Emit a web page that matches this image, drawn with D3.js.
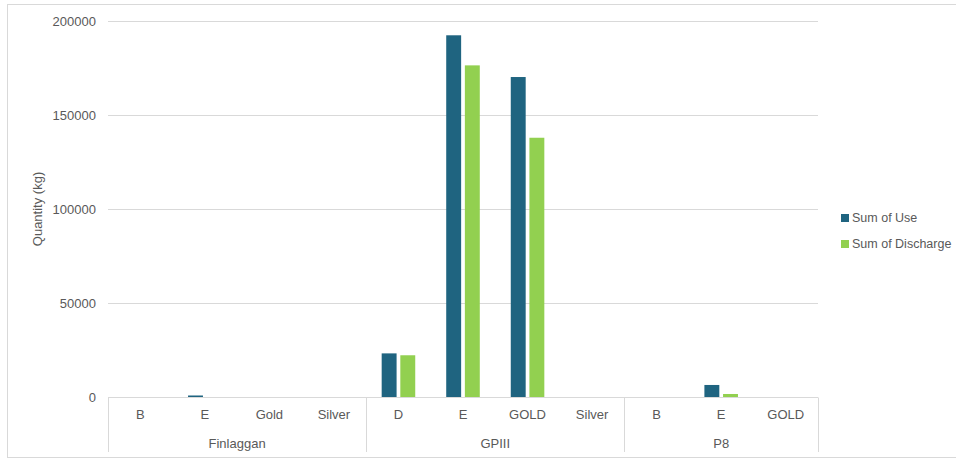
<!DOCTYPE html>
<html>
<head>
<meta charset="utf-8">
<script src="https://cdn.jsdelivr.net/npm/d3@7"></script>
<style>
  html, body { margin: 0; padding: 0; background: #fff; }
  svg text { font-family: "Liberation Sans", "Open Sans", sans-serif; fill: #595959; }
</style>
</head>
<body>
<svg id="chart" width="956" height="459"></svg>
<script>
// Sites and the product codes shown under each of them
const groups = ["Finlaggan", "GPIII", "P8"];
const categoryGroup = ["Finlaggan", "Finlaggan", "Finlaggan", "Finlaggan",
                       "GPIII", "GPIII", "GPIII", "GPIII",
                       "P8", "P8", "P8"];
const categoryLabel = ["B", "E", "Gold", "Silver",
                       "D", "E", "GOLD", "Silver",
                       "B", "E", "GOLD"];
// Quantities in kg
const useValues       = [0, 800, 0, 0, 23200, 192400, 170200, 0, 0, 6400, 0];
const dischargeValues = [0, 0,   0, 0, 22200, 176400, 137900, 0, 0, 1600, 0];
const seriesNames = ["Sum of Use", "Sum of Discharge"];
const seriesColors = ["#1f6480", "#92d050"];
const yTicks = [0, 50000, 100000, 150000, 200000];

const svg = d3.select("#chart");
const grid = "#d9d9d9";
const plot = { left: 108, right: 818, top: 21, bottom: 397 };

// outer frame
svg.append("rect")
  .attr("x", 7.5).attr("y", 4.5).attr("width", 960).attr("height", 453)
  .attr("fill", "none").attr("stroke", grid).attr("stroke-width", 1);

const keys = categoryLabel.map((d, i) => i);
const x = d3.scaleBand().domain(keys).range([plot.left, plot.right]).padding(0);
const bw = x.bandwidth();
const xs = d3.scaleBand().domain(seriesNames).range([bw * 0.24, bw * 0.76]).paddingInner(0.2);
const y = d3.scaleLinear().domain([0, 200000]).range([plot.bottom, plot.top]);

// horizontal gridlines and value labels
const yAxis = svg.append("g");
yAxis.selectAll("line.grid").data(yTicks.filter(t => t > 0)).join("line")
  .attr("x1", plot.left).attr("x2", plot.right)
  .attr("y1", d => Math.round(y(d)) + 0.5).attr("y2", d => Math.round(y(d)) + 0.5)
  .attr("stroke", grid).attr("stroke-width", 1);
yAxis.selectAll("text").data(yTicks).join("text")
  .attr("x", 96).attr("y", d => y(d)).attr("dy", "0.35em")
  .attr("text-anchor", "end").attr("font-size", 13)
  .text(d => d3.format("d")(d));

// axis title
svg.append("text")
  .attr("transform", `translate(42,${(plot.top + plot.bottom) / 2}) rotate(-90)`)
  .attr("text-anchor", "middle").attr("font-size", 13)
  .text("Quantity (kg)");

// bars
const rows = keys.map(i => [useValues[i], dischargeValues[i]]);
const barG = svg.append("g");
rows.forEach((vals, i) => {
  barG.selectAll(null).data(vals.map((v, s) => ({ v, s }))).join("rect")
    .attr("x", d => x(i) + xs(seriesNames[d.s]))
    .attr("width", xs.bandwidth())
    .attr("y", d => y(d.v))
    .attr("height", d => plot.bottom - y(d.v))
    .attr("fill", d => seriesColors[d.s]);
});

// category axis: baseline, group dividers and labels
const axisY = Math.round(plot.bottom) + 0.5;
svg.append("line")
  .attr("x1", plot.left).attr("x2", plot.right)
  .attr("y1", axisY).attr("y2", axisY)
  .attr("stroke", grid).attr("stroke-width", 1);

const groupSpans = groups.map(g => {
  const idx = keys.filter(i => categoryGroup[i] === g);
  return { g, x0: x(idx[0]), x1: x(idx[idx.length - 1]) + bw };
});
const dividers = [plot.left].concat(groupSpans.map(s => s.x1));
svg.selectAll("line.div").data(dividers).join("line")
  .attr("x1", d => Math.round(d) + 0.5).attr("x2", d => Math.round(d) + 0.5)
  .attr("y1", axisY).attr("y2", 452)
  .attr("stroke", grid).attr("stroke-width", 1);

svg.append("g").selectAll("text").data(keys).join("text")
  .attr("x", i => x(i) + bw / 2).attr("y", 419)
  .attr("text-anchor", "middle").attr("font-size", 13)
  .text(i => categoryLabel[i]);

svg.append("g").selectAll("text").data(groupSpans).join("text")
  .attr("x", d => (d.x0 + d.x1) / 2).attr("y", 448)
  .attr("text-anchor", "middle").attr("font-size", 13)
  .text(d => d.g);

// legend
const legend = svg.append("g").attr("transform", "translate(841,218)");
const item = legend.selectAll("g").data(seriesNames).join("g")
  .attr("transform", (d, i) => `translate(0,${i * 26})`);
item.append("rect").attr("x", 0).attr("y", -4).attr("width", 8).attr("height", 8)
  .attr("fill", (d, i) => seriesColors[i]);
item.append("text").attr("x", 11).attr("y", 0).attr("dy", "0.35em")
  .attr("font-size", 12.5).text(d => d);
</script>
</body>
</html>
